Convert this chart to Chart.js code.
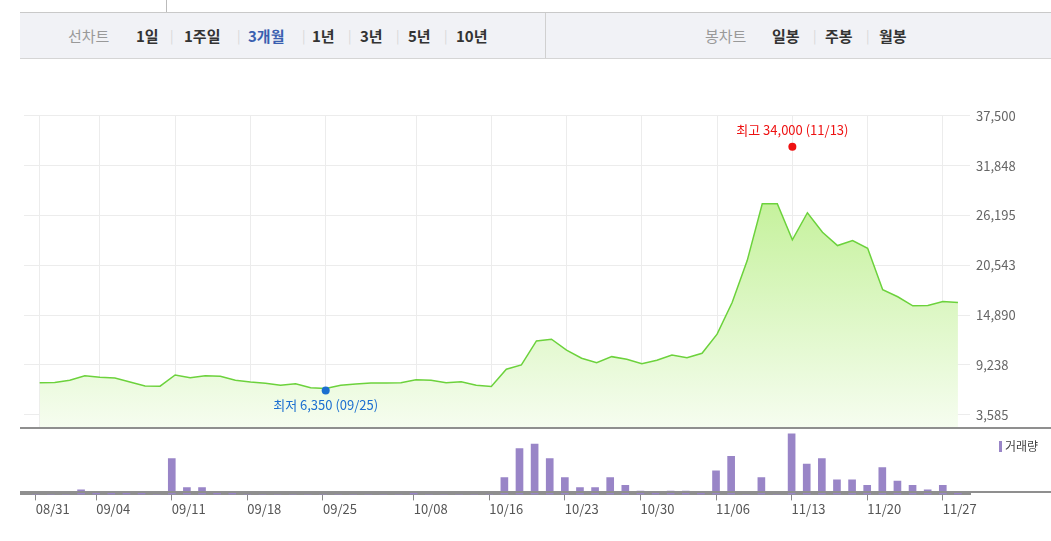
<!DOCTYPE html>
<html>
<head>
<meta charset="utf-8">
<script src="https://cdn.jsdelivr.net/npm/chart.js@4"></script>
<style>
  body { margin: 0; width: 1051px; height: 541px; background: #fff; font-family: "Noto Sans CJK KR", sans-serif; position: relative; overflow: hidden; }
  .tabline { position: absolute; left: 166px; top: 0; width: 1px; height: 12px; background: #bbb; }
  .bar { position: absolute; left: 20px; top: 12px; width: 1031px; height: 45px; background: #f1f2f6; border-top: 1px solid #c9c9c9; border-bottom: 1px solid #d5d5d5; }
  .bar .div { position: absolute; left: 525px; top: 0; width: 1px; height: 45px; background: #d0d0d0; }
  .grp { position: absolute; top: 25px; font-size: 15px; font-weight: bold; color: #333; white-space: nowrap; }
  .grp span { position: absolute; top: 0; }
  .grp .t { color: #999; font-weight: normal; }
  .grp .s { color: #d8d8d8; font-weight: normal; font-size: 13px; top: 1px; }
  .grp .on { color: #3a5fb0; }
  #pwrap { position: absolute; left: 20px; top: 102px; width: 1031px; height: 340px; }
  #vwrap { position: absolute; left: 20px; top: 425px; width: 1031px; height: 93px; }
  .hline { position: absolute; left: 20px; width: 1031px; height: 2px; background: #8f8f8f; }
  .legend { position: absolute; left: 999px; top: 437px; font-size: 12px; color: #444; }
  .legend i { display: inline-block; width: 3px; height: 11px; background: #9985c7; margin-right: 3px; vertical-align: -1px; }
</style>
</head>
<body>
<div class="tabline"></div>
<div class="bar"><div class="div"></div></div>
<div class="grp" style="left:0">
  <span class="t" style="left:68px">선차트</span>
  <span style="left:136px">1일</span><span class="s" style="left:170px">|</span>
  <span style="left:184px">1주일</span><span class="s" style="left:237px">|</span>
  <span class="on" style="left:248px">3개월</span><span class="s" style="left:302px">|</span>
  <span style="left:312px">1년</span><span class="s" style="left:348px">|</span>
  <span style="left:360px">3년</span><span class="s" style="left:396px">|</span>
  <span style="left:408px">5년</span><span class="s" style="left:444px">|</span>
  <span style="left:456px">10년</span>
  <span class="t" style="left:705px">봉차트</span>
  <span style="left:772px">일봉</span><span class="s" style="left:813px">|</span>
  <span style="left:825px">주봉</span><span class="s" style="left:866px">|</span>
  <span style="left:879px">월봉</span>
</div>
<div id="pwrap"><canvas id="price"></canvas></div>
<div id="vwrap"><canvas id="vol"></canvas></div>
<div class="hline" style="top:427px"></div>
<div class="hline" style="top:491px"></div>
<div class="legend"><i></i>거래량</div>
<script>
const prices = [7227, 7250, 7500, 8023, 7841, 7762, 7306, 6851, 6840, 8103,
  7796, 8023, 7950, 7500, 7306, 7158, 6931, 7120, 6658, 6580,
  6931, 7080, 7190, 7190, 7227, 7568, 7500, 7227, 7340, 6931,
  6800, 8752, 9241, 11972, 12166, 10914, 10004, 9503, 10186, 9890,
  9389, 9776, 10379, 10072, 10573, 12735, 16331, 21077, 27529, 27529,
  23432, 26505, 24297, 22784, 23353, 22476, 17776, 16980, 15955, 15995,
  16445, 16331];
const volumes = [0, 0, 0, 4, 2, 2, 2, 2, 0, 32,
  6, 6, 2, 2, 0, 0, 0, 0, 0, 0,
  0, 0, 0, 0, 0, 2, 0, 0, 0, 0,
  0, 15, 41, 45, 32, 15, 6, 6, 15, 8,
  3, 2, 3, 3, 2, 21, 34, 0, 15, 0,
  54, 27, 32, 13, 13, 8, 24, 12, 8, 4,
  8, 2];
const dateTicks = [0, 4, 9, 14, 19, 25, 30, 35, 40, 45, 50, 55, 60];
const dateLabels = ['08/31', '09/04', '09/11', '09/18', '09/25', '10/08', '10/16',
  '10/23', '10/30', '11/06', '11/13', '11/20', '11/27'];
const yTicks = [3585, 9238, 14890, 20543, 26195, 31848, 37500];
const highIdx = 50, highVal = 34000, highText = '최고 34,000 (11/13)';
const lowIdx = 19, lowVal = 6350, lowText = '최저 6,350 (09/25)';

const X_MIN = -1.04, X_MAX = 61.8, AXIS_W = 81;
const font = { family: "'Noto Sans CJK KR', sans-serif", size: 13 };

const markerText = {
  id: 'markerText',
  afterDatasetsDraw(chart) {
    const ctx = chart.ctx;
    const x = chart.scales.x, y = chart.scales.y;
    ctx.save();
    ctx.font = "13px 'Noto Sans CJK KR', sans-serif";
    ctx.textAlign = 'center';
    ctx.fillStyle = '#ee1111';
    ctx.fillText(highText, x.getPixelForValue(highIdx), y.getPixelForValue(highVal) - 12);
    ctx.fillStyle = '#1c6fd0';
    ctx.fillText(lowText, x.getPixelForValue(lowIdx), y.getPixelForValue(lowVal) + 20);
    ctx.restore();
  }
};

new Chart(document.getElementById('price'), {
  type: 'line',
  data: {
    datasets: [
      {
        data: prices.map((v, i) => ({ x: i, y: v })),
        order: 2,
        borderColor: '#6cd23c',
        borderWidth: 1.5,
        pointRadius: 0,
        tension: 0,
        fill: 'start',
        backgroundColor: (c) => {
          const a = c.chart.chartArea;
          if (!a) return '#e0f7cc';
          const g = c.chart.ctx.createLinearGradient(0, a.top + 80, 0, a.bottom);
          g.addColorStop(0, '#c4f19a');
          g.addColorStop(1, '#f6fdf0');
          return g;
        },
      },
      {
        type: 'scatter',
        order: 0,
        data: [{ x: highIdx, y: highVal }],
        pointRadius: 4, pointBackgroundColor: '#ee1111', pointBorderWidth: 0,
      },
      {
        type: 'scatter',
        order: 0,
        data: [{ x: lowIdx, y: lowVal }],
        pointRadius: 4, pointBackgroundColor: '#1c6fd0', pointBorderWidth: 0,
      },
    ],
  },
  options: {
    responsive: true,
    maintainAspectRatio: false,
    animation: false,
    layout: { padding: 0 },
    plugins: { legend: { display: false }, tooltip: { enabled: false } },
    scales: {
      x: {
        type: 'linear',
        min: X_MIN, max: X_MAX,
        afterBuildTicks: (s) => { s.ticks = dateTicks.map((v) => ({ value: v })); },
        ticks: { display: false },
        grid: { color: '#ececec', drawTicks: false },
        border: { display: false },
      },
      y: {
        position: 'right',
        min: 2070, max: 37500,
        afterBuildTicks: (s) => { s.ticks = yTicks.map((v) => ({ value: v })); },
        afterFit: (s) => { s.width = AXIS_W; },
        ticks: { color: '#666', font: font, crossAlign: 'near', padding: 6,
          callback: (v) => v.toLocaleString('en-US') },
        grid: { color: '#ececec', drawTicks: false },
        border: { display: false },
      },
    },
  },
  plugins: [markerText],
});

new Chart(document.getElementById('vol'), {
  type: 'bar',
  data: {
    datasets: [{
      data: volumes.map((v, i) => ({ x: i, y: v })),
      backgroundColor: '#9985c7',
      barThickness: 7,
    }],
  },
  options: {
    responsive: true,
    maintainAspectRatio: false,
    animation: false,
    layout: { padding: 0 },
    plugins: { legend: { display: false }, tooltip: { enabled: false } },
    scales: {
      x: {
        type: 'linear',
        offset: false,
        min: X_MIN, max: X_MAX,
        afterBuildTicks: (s) => { s.ticks = dateTicks.map((v) => ({ value: v })); },
        ticks: { color: '#555', font: font, padding: 1, align: 'start',
          callback: (v) => dateLabels[dateTicks.indexOf(v)] },
        grid: { drawOnChartArea: false, offset: false, tickColor: '#888', tickLength: 6 },
        border: { color: '#8f8f8f', width: 2 },
      },
      y: {
        position: 'right',
        min: 0, max: 62,
        afterFit: (s) => { s.width = AXIS_W; },
        ticks: { display: false },
        grid: { display: false },
        border: { display: false },
      },
    },
  },
});
</script>
</body>
</html>
